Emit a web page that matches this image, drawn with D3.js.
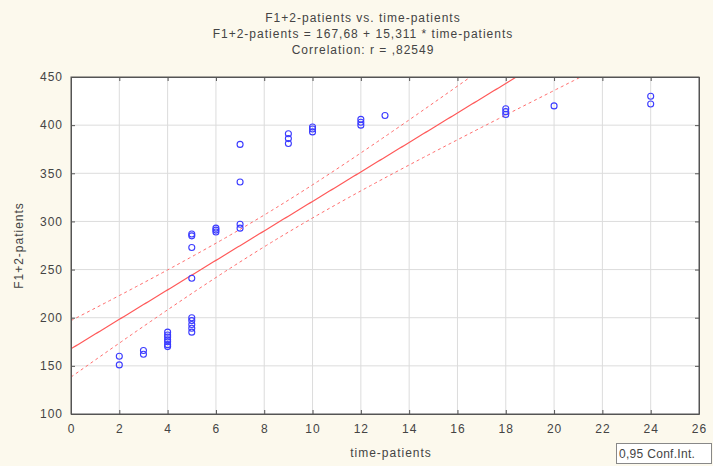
<!DOCTYPE html>
<html>
<head>
<meta charset="utf-8">
<script src="https://cdn.jsdelivr.net/npm/d3@7"></script>
<style>
  body { margin: 0; background: #fcf9ed; }
  svg { display: block; font-family: "Liberation Sans", Arial, sans-serif; }
  text { letter-spacing: 1px; }
  .tick text { fill: #444; font-size: 12px; }
</style>
</head>
<body>
<script>
var margin = {top: 77, bottom: 52, left: 71, right: 14};
var width = 713 - margin.left - margin.right;
var height = 466 - margin.top - margin.bottom;

// x values (time-patients) and y values (F1+2-patients)
var timeVals = [2, 2, 3, 3, 4, 4, 4, 4, 4, 4, 4, 5, 5, 5, 5, 5, 5, 5, 5, 5,
                6, 6, 6, 7, 7, 7, 7, 9, 9, 9, 10, 10, 10, 12, 12, 12, 13,
                18, 18, 18, 20, 24, 24];
var f12Vals = [151, 160, 162, 166, 170, 172, 175, 177, 180, 182, 185,
               185, 189, 193, 197, 200, 241, 273, 285, 287,
               289, 291, 293, 293, 297, 341, 380, 381, 386, 391,
               393, 396, 398, 400, 403, 406, 410, 411, 414, 417, 420, 422, 430];
var intercept = 167.68;
var slope = 15.311;
var xTicks = d3.range(0, 27, 2);
var yTicks = d3.range(100, 451, 50);
var titleLines = ["F1+2-patients vs. time-patients",
                  "F1+2-patients = 167,68 + 15,311 * time-patients",
                  "Correlation: r = ,82549"];

var dataset = timeVals.map(function(t, i) { return {x: t, y: f12Vals[i]}; });

var svg = d3.select("body")
            .append("svg")
            .attr("width", 713)
            .attr("height", 466);

var xScale = d3.scaleLinear().domain([0, 26]).range([0, width]);
var yScale = d3.scaleLinear().domain([100, 450]).range([height, 0]);

var g = svg.append("g")
           .attr("transform", "translate(" + margin.left + "," + margin.top + ")");

g.append("rect")
 .attr("width", width)
 .attr("height", height)
 .attr("fill", "#fff");

// grid
g.selectAll(".vgrid")
 .data(xTicks.slice(1, -1))
 .enter().append("line")
 .attr("x1", function(d) { return xScale(d); })
 .attr("x2", function(d) { return xScale(d); })
 .attr("y1", 0).attr("y2", height)
 .attr("stroke", "#dcdcdc");

g.selectAll(".hgrid")
 .data(yTicks.slice(1, -1))
 .enter().append("line")
 .attr("x1", 0).attr("x2", width)
 .attr("y1", function(d) { return yScale(d); })
 .attr("y2", function(d) { return yScale(d); })
 .attr("stroke", "#dcdcdc");

// confidence band (0.95) around the fitted line
var n = dataset.length;
var xbar = d3.mean(dataset, function(d) { return d.x; });
var sxx = d3.sum(dataset, function(d) { return (d.x - xbar) * (d.x - xbar); });
var sse = d3.sum(dataset, function(d) { var r = d.y - (intercept + slope * d.x); return r * r; });
var s = Math.sqrt(sse / (n - 2));
var tval = 1.85;

var fit = function(x) { return intercept + slope * x; };
var half = function(x) { return tval * s * Math.sqrt(1 / n + (x - xbar) * (x - xbar) / sxx); };

var xs = d3.range(0, 26.01, 0.1);

g.append("clipPath").attr("id", "clip")
 .append("rect").attr("width", width).attr("height", height);

var line = d3.line()
             .x(function(d) { return xScale(d[0]); })
             .y(function(d) { return yScale(d[1]); });

var lines = g.append("g").attr("clip-path", "url(#clip)");

lines.append("path")
     .attr("d", line(xs.map(function(x) { return [x, fit(x)]; })))
     .attr("fill", "none")
     .attr("stroke", "#ff5a5a")
     .attr("stroke-width", 1.2);

lines.append("path")
     .attr("d", line(xs.map(function(x) { return [x, fit(x) + half(x)]; })))
     .attr("fill", "none")
     .attr("stroke", "#ff6b6b")
     .attr("stroke-dasharray", "3,3");

lines.append("path")
     .attr("d", line(xs.map(function(x) { return [x, fit(x) - half(x)]; })))
     .attr("fill", "none")
     .attr("stroke", "#ff6b6b")
     .attr("stroke-dasharray", "3,3");

// points
g.selectAll("circle")
 .data(dataset)
 .enter()
 .append("circle")
 .attr("cx", function(d) { return xScale(d.x); })
 .attr("cy", function(d) { return yScale(d.y); })
 .attr("r", 3)
 .attr("fill", "none")
 .attr("stroke", "#3b3bff")
 .attr("stroke-width", 1.1);

// axes (ticks pointing inward on all four sides)
var xAxis = d3.axisBottom(xScale).tickValues(xTicks).tickSizeInner(-4).tickSizeOuter(0).tickPadding(10);
var yAxis = d3.axisLeft(yScale).tickValues(yTicks).tickSizeInner(-4).tickSizeOuter(0).tickPadding(8);

g.append("g").attr("transform", "translate(0," + height + ")").call(xAxis);
g.append("g").call(yAxis);
g.append("g").call(d3.axisTop(xScale).tickValues(xTicks).tickSizeInner(-4).tickSizeOuter(0).tickFormat(""));
g.append("g").attr("transform", "translate(" + width + ",0)")
 .call(d3.axisRight(yScale).tickValues(yTicks).tickSizeInner(-4).tickSizeOuter(0).tickFormat(""));

g.selectAll(".domain").attr("stroke", "#555");
g.selectAll(".tick line").attr("stroke", "#555");

g.append("rect")
 .attr("width", width)
 .attr("height", height)
 .attr("fill", "none")
 .attr("stroke", "#555");

// titles
svg.selectAll(".title")
   .data(titleLines)
   .enter().append("text")
   .attr("x", 363)
   .attr("y", function(d, i) { return 22 + i * 16; })
   .attr("text-anchor", "middle")
   .attr("font-size", 12)
   .attr("fill", "#444")
   .text(function(d) { return d; });

svg.append("text")
   .attr("x", margin.left + width / 2 + 6)
   .attr("y", 457)
   .attr("text-anchor", "middle")
   .attr("font-size", 12)
   .attr("fill", "#444")
   .text("time-patients");

svg.append("text")
   .attr("transform", "translate(23," + (margin.top + height / 2) + ") rotate(-90)")
   .attr("text-anchor", "middle")
   .attr("font-size", 12)
   .attr("fill", "#444")
   .text("F1+2-patients");

// legend box
svg.append("rect")
   .attr("x", 616.5).attr("y", 443.5)
   .attr("width", 95).attr("height", 20)
   .attr("fill", "#fff")
   .attr("stroke", "#888");

svg.append("text")
   .attr("x", 619).attr("y", 458)
   .attr("font-size", 12)
   .attr("fill", "#444")
   .style("letter-spacing", "0.3px")
   .text("0,95 Conf.Int.");
</script>
</body>
</html>
